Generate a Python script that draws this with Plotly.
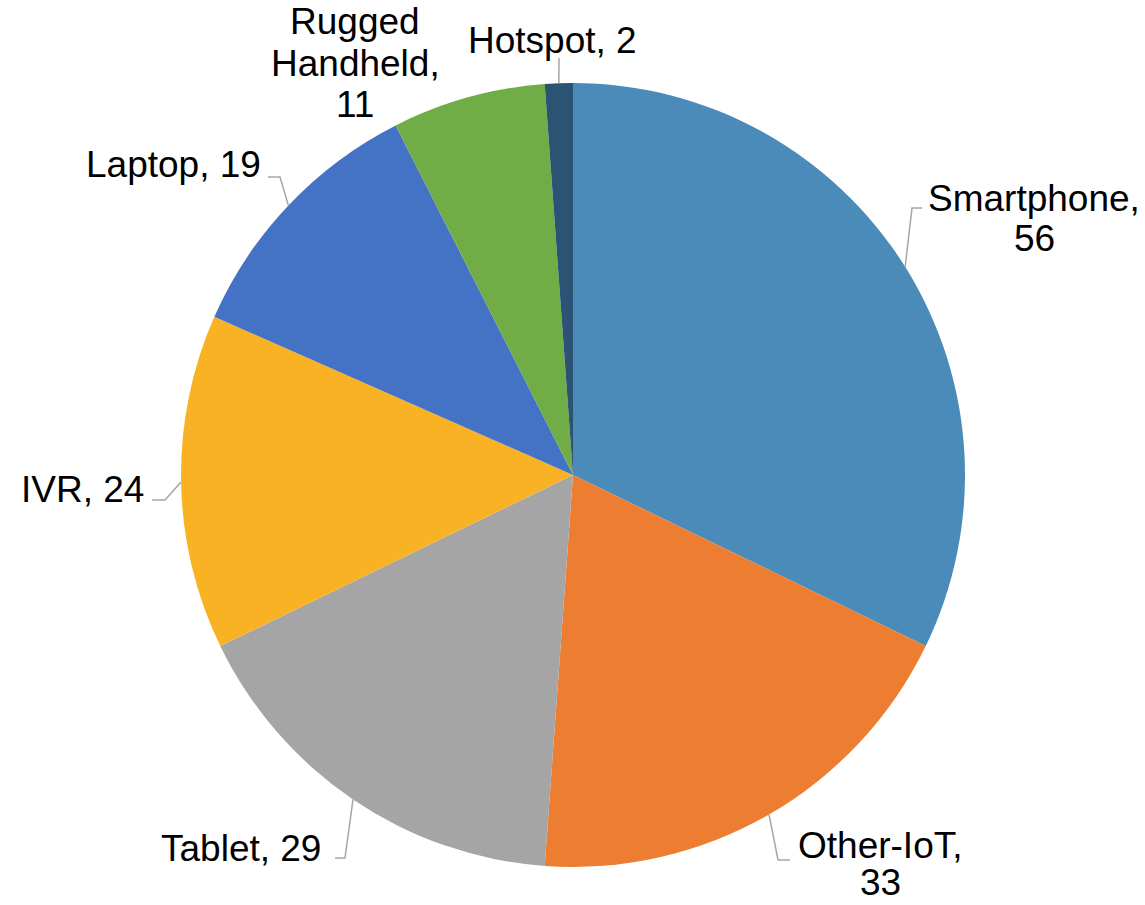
import math
import plotly.graph_objects as go

# ---- data ----
categories = ["Smartphone", "Other-IoT", "Tablet", "IVR", "Laptop", "Rugged Handheld", "Hotspot"]
values = [56, 33, 29, 24, 19, 11, 2]
colors = ["#4A8BB9", "#ED7D31", "#A5A5A5", "#F9B223", "#4472C4", "#70AD47", "#2C5374"]
label_lines = [
    ["Smartphone,", "56"],
    ["Other-IoT,", "33"],
    ["Tablet, 29"],
    ["IVR, 24"],
    ["Laptop, 19"],
    ["Rugged", "Handheld,", "11"],
    ["Hotspot, 2"],
]

# ---- layout geometry (pixels) ----
W, H = 1145, 905
CX, CY, R = 573, 475, 392
FONT = dict(family="Liberation Sans, Arial, sans-serif", size=37, color="#000000")
LINE_H = 41

def px(x):
    return x / W

def py(y):
    return 1 - y / H

placement = [
    dict(tx=1034, ty=198, lh=LINE_H, xa="center", elbow=(912, 208), end=(922, 208)),
    dict(tx=880, ty=845, lh=37, xa="center", elbow=(778, 860), end=(790, 860)),
    dict(tx=322, ty=848, lh=LINE_H, xa="right", elbow=(345, 858), end=(335, 858)),
    dict(tx=145, ty=490, lh=LINE_H, xa="right", elbow=(165, 500), end=(152, 500)),
    dict(tx=262, ty=165, lh=LINE_H, xa="right", elbow=(280, 177), end=(268, 177)),
    dict(tx=355, ty=22, lh=LINE_H, xa="center", elbow=None, end=None),
    dict(tx=552, ty=40, lh=LINE_H, xa="center", elbow=(559, 58), end=None),
]

fig = go.Figure()
fig.add_trace(go.Pie(
    labels=categories,
    values=values,
    sort=False,
    direction="clockwise",
    rotation=0,
    marker=dict(colors=colors, line=dict(width=0)),
    textinfo="none",
    hoverinfo="label+value",
    domain=dict(x=[px(CX - R), px(CX + R)], y=[py(CY + R), py(CY - R)]),
    showlegend=False,
))

total = sum(values)
cum = 0
annotations = []
shapes = []
for i, v in enumerate(values):
    mid = (cum + v / 2) / total * 2 * math.pi
    cum += v
    ax = CX + R * math.sin(mid)
    ay = CY - R * math.cos(mid)
    p = placement[i]
    for j, line in enumerate(label_lines[i]):
        annotations.append(dict(
            x=px(p["tx"]), y=py(p["ty"] + j * p["lh"]),
            xref="paper", yref="paper",
            text=line, showarrow=False,
            xanchor=p["xa"], yanchor="middle",
            borderpad=0,
            font=FONT,
        ))
    if p["elbow"] is not None:
        pts = [(ax, ay), p["elbow"]]
        if p["end"] is not None:
            pts.append(p["end"])
        path = "M " + " L ".join(f"{px(x):.5f},{py(y):.5f}" for x, y in pts)
        shapes.append(dict(type="path", path=path, xref="paper", yref="paper",
                           line=dict(color="#A6A6A6", width=1.5)))

fig.update_layout(
    width=W, height=H,
    margin=dict(l=0, r=0, t=0, b=0),
    paper_bgcolor="white",
    plot_bgcolor="white",
    annotations=annotations,
    shapes=shapes,
)

fig.write_html("out.html", config={"displayModeBar": False},
               post_script="document.body.style.margin='0';document.body.style.overflow='hidden';")
